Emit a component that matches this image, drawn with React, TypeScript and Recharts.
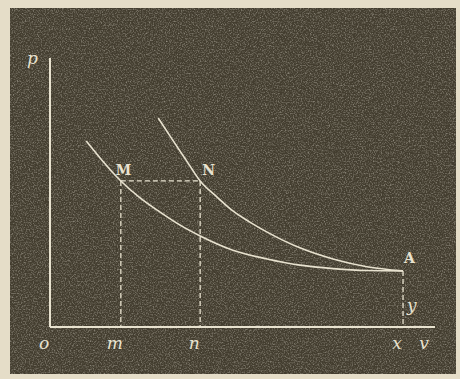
import React from "react";
import { LineChart, Line, XAxis, YAxis, ReferenceLine, ReferenceDot } from "recharts";

// p-v diagram, values (v: 0..10, p: 0..7)
const lowerV = [0.94, 1.3, 1.84, 2.34, 2.86, 3.38, 3.9, 4.75, 5.64, 6.49, 7.35, 8.23, 9.17];
const lowerP = [4.84, 4.4, 3.8, 3.36, 2.99, 2.65, 2.37, 2.0, 1.77, 1.61, 1.52, 1.47, 1.46];

const upperV = [2.81, 3.17, 3.53, 3.9, 4.34, 4.75, 5.19, 5.64, 6.49, 7.35, 8.23, 9.17];
const upperP = [5.44, 4.89, 4.35, 3.8, 3.38, 3.02, 2.73, 2.47, 2.06, 1.77, 1.57, 1.46];

// named points
const pointNames = ["M", "N", "A"];
const pointV = [1.84, 3.9, 9.17];
const pointP = [3.8, 3.8, 1.46];

// axis labels
const xTicks = [0, 1.84, 3.9, 9.17, 9.87];
const xTickLabels = ["o", "m", "n", "x", "v"];
const yTicks = [7];
const yTickLabels = ["p"];

const lower = lowerV.map((v, i) => ({ v, p: lowerP[i] }));
const upper = upperV.map((v, i) => ({ v, p: upperP[i] }));

const INK = "#e8e2cf";

const XTick = (props: any) => {
  const { x, y, payload } = props;
  const i = xTicks.indexOf(payload.value);
  return (
    <text x={x - 6} y={y + 14} fill={INK} fontFamily="'DejaVu Serif', serif" fontStyle="italic" fontSize={17} textAnchor="middle">
      {xTickLabels[i]}
    </text>
  );
};

const YTick = (props: any) => {
  const { x, y, payload } = props;
  const i = yTicks.indexOf(payload.value);
  return (
    <text x={x - 4} y={y + 6} fill={INK} fontFamily="'DejaVu Serif', serif" fontStyle="italic" fontSize={17} textAnchor="end">
      {yTickLabels[i]}
    </text>
  );
};

const pointLabel = (name: string) => (props: any) => {
  const { viewBox } = props;
  const dx = name === "M" ? -5 : name === "N" ? 2 : 1;
  const dy = name === "A" ? -8 : -6;
  return (
    <text x={viewBox.x + dx} y={viewBox.y + dy} fill={INK} fontFamily="'DejaVu Serif', serif" fontWeight="bold" fontSize={14}>
      {name}
    </text>
  );
};

const App: React.FC = () => {
  return (
    <div style={{ position: "absolute", left: 0, top: 0, width: 460, height: 379, background: "#e5ddc8" }}>
      <svg width={460} height={379} style={{ position: "absolute", left: 0, top: 0 }}>
        <defs>
          <filter id="grain" x="0" y="0" width="100%" height="100%">
            <feTurbulence type="fractalNoise" baseFrequency="0.75" numOctaves={2} seed={7} />
            <feColorMatrix type="matrix" values="0 0 0 0 0.78  0 0 0 0 0.75  0 0 0 0 0.66  1.7 0 0 0 -0.74" />
          </filter>
        </defs>
        <rect x={10} y={8} width={446} height={366} fill="#433d2f" />
        <rect x={10} y={8} width={446} height={366} filter="url(#grain)" opacity={0.6} />
      </svg>
      <div style={{ position: "absolute", left: 0, top: 0 }}>
        <LineChart width={460} height={379} margin={{ top: 58, right: 25, bottom: 22, left: 40 }}>
          <XAxis
            type="number"
            dataKey="v"
            domain={[0, 10]}
            ticks={xTicks}
            interval={0}
            tick={<XTick />}
            tickLine={false}
            axisLine={{ stroke: INK, strokeWidth: 2 }}
            height={30}
            allowDataOverflow
          />
          <YAxis
            type="number"
            dataKey="p"
            domain={[0, 7]}
            ticks={yTicks}
            interval={0}
            tick={<YTick />}
            tickLine={false}
            axisLine={{ stroke: INK, strokeWidth: 2 }}
            width={10}
            allowDataOverflow
          />
          <ReferenceLine segment={[{ x: pointV[0], y: pointP[0] }, { x: pointV[1], y: pointP[1] }]} stroke={INK} strokeDasharray="5 3" strokeWidth={1.3} />
          <ReferenceLine segment={[{ x: pointV[0], y: pointP[0] }, { x: pointV[0], y: 0 }]} stroke={INK} strokeDasharray="5 3" strokeWidth={1.3} />
          <ReferenceLine segment={[{ x: pointV[1], y: pointP[1] }, { x: pointV[1], y: 0 }]} stroke={INK} strokeDasharray="5 3" strokeWidth={1.3} />
          <ReferenceLine segment={[{ x: pointV[2], y: pointP[2] }, { x: pointV[2], y: 0 }]} stroke={INK} strokeDasharray="5 3" strokeWidth={1.3} />
          <Line data={lower} dataKey="p" type="monotone" stroke={INK} strokeWidth={1.6} dot={false} isAnimationActive={false} />
          <Line data={upper} dataKey="p" type="monotone" stroke={INK} strokeWidth={1.6} dot={false} isAnimationActive={false} />
          {pointNames.map((n, i) => (
            <ReferenceDot key={n} x={pointV[i]} y={pointP[i]} r={0} stroke="none" label={pointLabel(n)} />
          ))}
          <ReferenceDot x={pointV[2]} y={(pointP[2] * 0.4)} r={0} stroke="none" label={(props: any) => (
            <text x={props.viewBox.x + 4} y={props.viewBox.y + 6} fill={INK} fontFamily="'DejaVu Serif', serif" fontStyle="italic" fontSize={17}>y</text>
          )} />
        </LineChart>
      </div>
    </div>
  );
};

export default App;
